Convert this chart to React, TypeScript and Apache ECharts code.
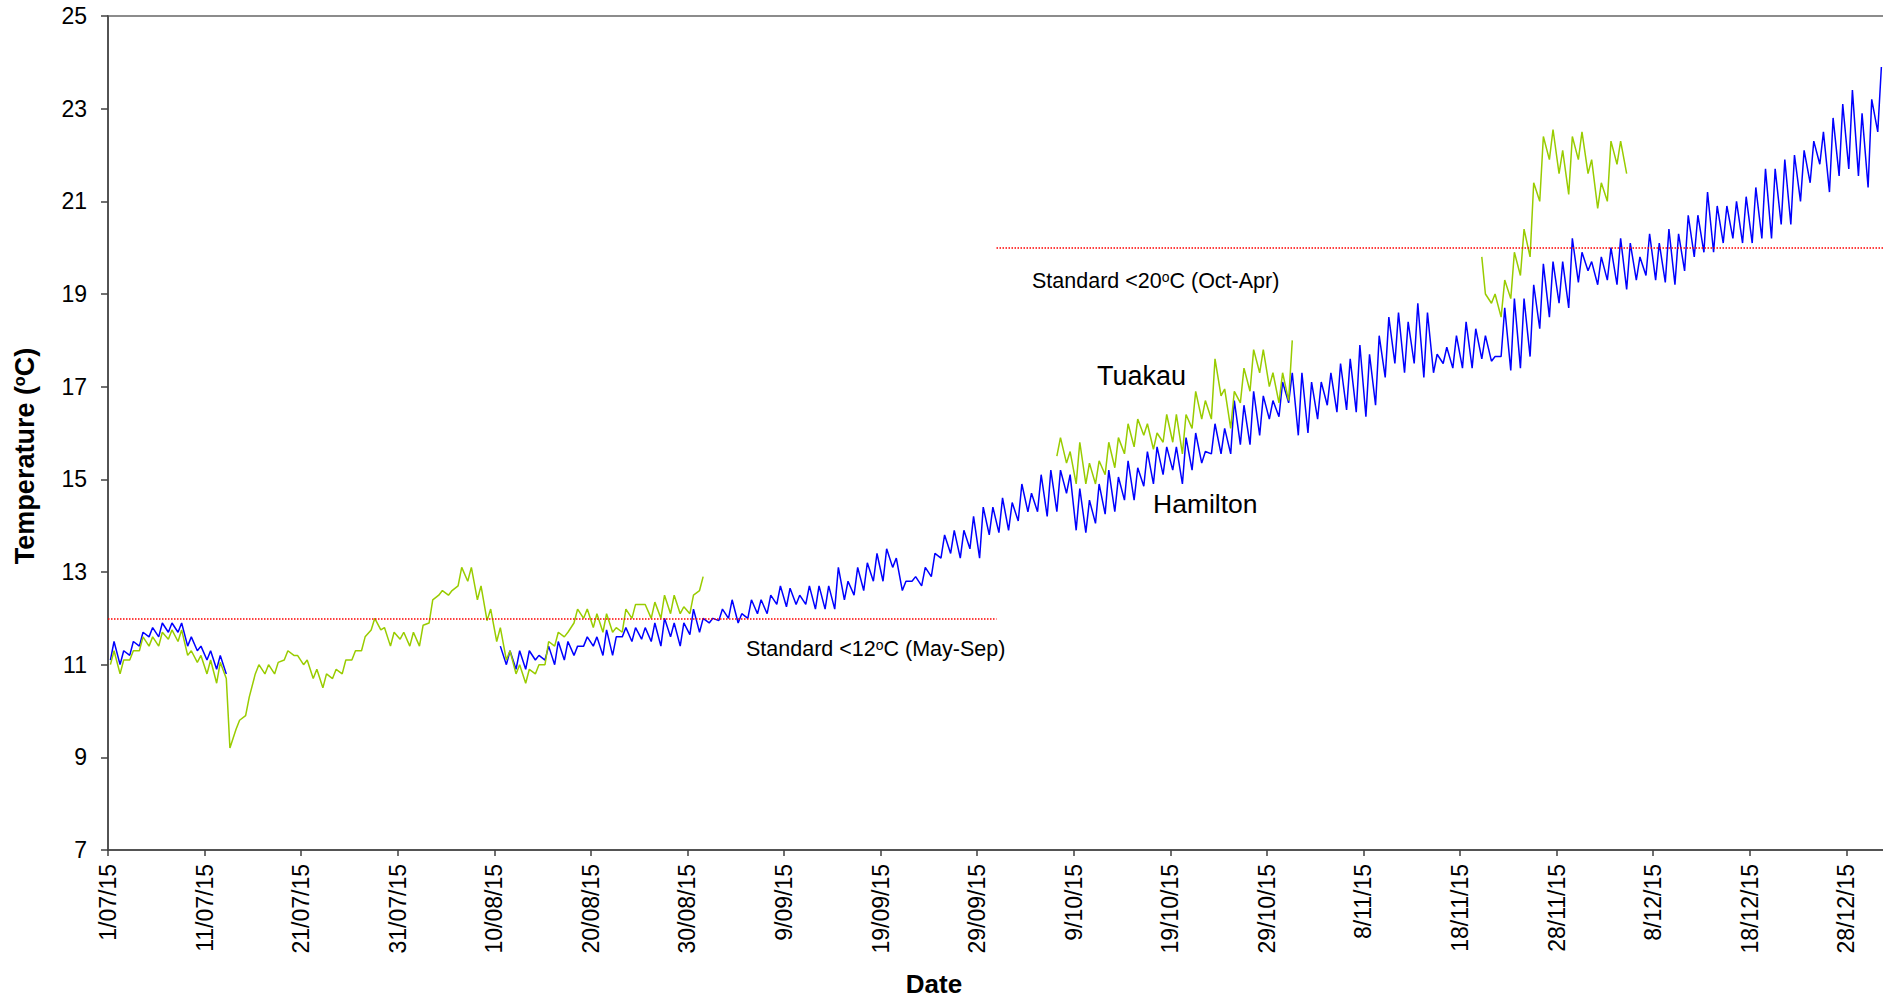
import { useRef, useEffect } from 'react'
import * as echarts from 'echarts'

// x axis is counted in days from 1/07/15
const tickLabels = ['1/07/15', '11/07/15', '21/07/15', '31/07/15', '10/08/15', '20/08/15', '30/08/15',
  '9/09/15', '19/09/15', '29/09/15', '9/10/15', '19/10/15', '29/10/15', '8/11/15', '18/11/15',
  '28/11/15', '8/12/15', '18/12/15', '28/12/15']

// readings per day: early morning and mid afternoon
const AM_HOUR = 6
const PM_HOUR = 15

// Hamilton (blue)
const hamiltonJulStart = 0
const hamiltonJulAm = [11.1, 11.0, 11.2, 11.4, 11.6, 11.6, 11.7, 11.7, 11.4, 11.3, 11.1, 10.9, 10.8]
const hamiltonJulPm = [11.5, 11.3, 11.5, 11.7, 11.8, 11.9, 11.9, 11.9, 11.6, 11.4, 11.3, 11.2, null]

const hamiltonAugStart = 40
const hamiltonAugAm = [
  null, 11.0, 10.9, 10.9, 11.1, 11.1, 11.0, 11.1, 11.2, 11.4,
  11.4, 11.2, 11.2, 11.6, 11.5, 11.55, 11.5, 11.4, 11.6, 11.4,
  11.65, 11.7, 11.9, 11.95, 12.0, 11.9, 12.0, 12.1, 12.1, 12.3,
  12.25, 12.3, 12.3, 12.2, 12.2, 12.2, 12.4, 12.5, 12.6, 12.8,
  12.8, 13.1, 12.6, 12.8, 12.7, 12.9, 13.3, 13.4, 13.3, 13.5,
  13.3, 13.8, 13.85, 13.9, 14.1, 14.3, 14.3, 14.2, 14.3, 14.7,
  13.9, 13.85, 14.05, 14.25, 14.3, 14.55, 14.55, 14.85, 14.9, 15.1,
  15.2, 14.9, 15.2, 15.35, 15.55, 15.55, 15.55, 15.75, 15.75, 15.95,
  16.3, 16.35, 16.65, 15.95, 16.0, 16.3, 16.6, 16.45, 16.5, 16.45,
  16.35, 16.6, 17.2, 17.5, 17.3, 17.5, 17.2, 17.3, 17.5, 17.4,
  17.4, 17.4, 17.6, 17.55, 17.65, 17.35, 17.4, 17.65, 18.25, 18.5,
  18.8, 18.7, 19.25, 19.5, 19.2, 19.3, 19.2, 19.1, 19.3, 19.4,
  19.3, 19.25, 19.2, 19.5, 19.8, 19.9, 19.9, 20.1, 20.2, 20.1,
  20.1, 20.2, 20.2, 20.5, 20.5, 21.0, 21.4, 21.8, 21.2, 21.55,
  21.7, 21.55, 21.3, 22.5,
]
const hamiltonAugPm = [
  11.4, 11.3, 11.3, 11.3, 11.2, 11.4, 11.5, 11.5, 11.4, 11.6,
  11.6, 11.75, 11.6, 11.8, 11.8, 11.8, 11.9, 12.0, 11.9, 11.9,
  12.2, 12.0, 12.0, 12.2, 12.4, 12.1, 12.4, 12.4, 12.5, 12.7,
  12.65, 12.5, 12.7, 12.7, 12.7, 13.1, 12.8, 13.1, 13.2, 13.4,
  13.5, 13.3, 12.8, 12.9, 13.1, 13.4, 13.8, 13.9, 13.9, 14.2,
  14.4, 14.4, 14.6, 14.5, 14.9, 14.7, 15.1, 15.2, 15.2, 15.1,
  14.8, 14.55, 14.9, 15.2, 15.05, 15.4, 15.25, 15.6, 15.7, 15.7,
  15.7, 15.9, 16.0, 15.6, 16.2, 16.1, 16.7, 16.6, 16.9, 16.8,
  16.7, 17.1, 17.3, 17.3, 17.1, 17.1, 17.3, 17.5, 17.6, 17.9,
  17.7, 18.1, 18.5, 18.6, 18.4, 18.8, 18.6, 17.7, 17.85, 18.1,
  18.4, 18.25, 18.1, 17.65, 18.7, 18.9, 18.9, 19.2, 19.65, 19.7,
  19.7, 20.2, 19.9, 19.7, 19.8, 20.0, 20.2, 20.1, 19.8, 20.3,
  20.1, 20.4, 20.3, 20.7, 20.7, 21.2, 20.9, 20.9, 21.0, 21.1,
  21.3, 21.7, 21.7, 21.9, 22.0, 22.1, 22.3, 22.5, 22.8, 23.1,
  23.4, 22.9, 23.2, 23.9,
]

// Tuakau (green)
const tuakauJulStart = 0
const tuakauJulAm = [
  11.0, 10.8, 11.1, 11.3, 11.4, 11.4, 11.55, 11.5, 11.2, 11.05,
  10.8, 10.6, 10.7, 9.6, 9.9, 10.8, 10.8, 10.8, 11.1, 11.2,
  11.0, 10.7, 10.5, 10.7, 10.8, 11.1, 11.3, 11.75, 11.75, 11.4,
  11.55, 11.4, 11.4, 11.9, 12.5, 12.5, 12.7, 12.8, 12.4, 11.95,
  11.5, 11.1, 10.8, 10.6, 10.8, 11.0, 11.4, 11.6, 11.9, 12.0,
  11.8, 11.7, 11.7, 11.7, 12.0, 12.3, 12.0, 12.0, 12.1, 12.1,
  12.1, 12.6,
]
const tuakauJulPm = [
  11.3, 11.1, 11.3, 11.6, 11.6, 11.7, 11.75, 11.75, 11.3, 11.2,
  11.1, 11.05, 9.2, 9.8, 10.3, 11.0, 11.0, 11.05, 11.3, 11.2,
  11.1, 10.9, 10.8, 10.9, 11.1, 11.3, 11.6, 12.0, 11.8, 11.7,
  11.7, 11.7, 11.85, 12.4, 12.6, 12.6, 13.1, 13.1, 12.7, 12.2,
  11.8, 11.3, 11.0, 10.9, 11.0, 11.5, 11.7, 11.7, 12.2, 12.2,
  12.1, 12.1, 11.8, 12.2, 12.3, 12.3, 12.35, 12.5, 12.5, 12.25,
  12.5, 12.9,
]

const tuakauOctStart = 98
const tuakauOctAm = [15.5, 15.35, 14.9, 14.9, 14.9, 15.1, 15.25, 15.55, 15.7, 15.95,
  15.65, 15.8, 15.8, 15.55, 16.1, 16.3, 16.3, 16.8, 16.1, 16.65,
  16.9, 17.3, 17.0, 16.65, 16.7]
const tuakauOctPm = [15.9, 15.6, 15.8, 15.35, 15.4, 15.8, 15.9, 16.2, 16.3, 16.2,
  16.0, 16.4, 16.4, 16.4, 16.9, 16.7, 17.6, 16.95, 16.9, 17.4,
  17.8, 17.8, 17.3, 17.3, 18.0]

const tuakauNovStart = 142
const tuakauNovAm = [19.8, 18.8, 18.5, 18.9, 19.4, 19.8, 21.0, 21.9, 21.6, 21.15, 21.9, 21.6, 20.85, 21.0, 21.8, 21.6]
const tuakauNovPm = [19.0, 19.0, 19.3, 19.9, 20.4, 21.4, 22.4, 22.55, 22.1, 22.4, 22.5, 21.9, 21.4, 22.3, 22.3, null]

// water quality standards
const standardValues = [12, 20]
const standardFromDay = [0, 92]
const standardToDay = [92, 184]

function buildLine(segments: { start: number, am: (number | null)[], pm: (number | null)[] }[]) {
  const pts: any[] = []
  segments.forEach((s, k) => {
    if (k > 0) pts.push([s.start, '-'])
    s.am.forEach((v, i) => {
      if (v != null) pts.push([s.start + i + AM_HOUR / 24, v])
      const p = s.pm[i]
      if (p != null) pts.push([s.start + i + PM_HOUR / 24, p])
    })
  })
  return pts
}

const FONT = '"Liberation Sans", Arial, sans-serif'

export default function App() {
  const cDom = useRef<HTMLDivElement>(null)

  useEffect(() => {
    if (!cDom.current) return
    const chart = echarts.init(cDom.current, null, { renderer: 'svg' })

    const hamilton = buildLine([
      { start: hamiltonJulStart, am: hamiltonJulAm, pm: hamiltonJulPm },
      { start: hamiltonAugStart, am: hamiltonAugAm, pm: hamiltonAugPm },
    ])
    const tuakau = buildLine([
      { start: tuakauJulStart, am: tuakauJulAm, pm: tuakauJulPm },
      { start: tuakauOctStart, am: tuakauOctAm, pm: tuakauOctPm },
      { start: tuakauNovStart, am: tuakauNovAm, pm: tuakauNovPm },
    ])

    const supRich = {
      sup: { fontSize: 14, verticalAlign: 'top', fontFamily: FONT, fill: '#000' },
    }

    chart.setOption({
      animation: false,
      backgroundColor: '#fff',
      textStyle: { fontFamily: FONT, color: '#000' },
      grid: {
        left: 108, top: 16, width: 1777, height: 834,
        outerBoundsMode: 'none',
        show: true, borderColor: '#8c8c8c', borderWidth: 2,
      },
      xAxis: {
        type: 'value', min: 0, max: 184, interval: 10,
        name: 'Date', nameLocation: 'middle', nameGap: 121,
        nameTextStyle: { fontSize: 26, fontWeight: 'bold', color: '#000', padding: [0, 125, 0, 0] },
        splitLine: { show: false },
        axisLine: { onZero: false, lineStyle: { color: '#404040', width: 1.5 } },
        axisTick: { length: 6, lineStyle: { color: '#404040', width: 1.5 } },
        axisLabel: {
          rotate: 90, margin: 14, fontSize: 23, color: '#000', showMaxLabel: false,
          formatter: (v: number) => tickLabels[Math.round(v / 10)] ?? '',
        },
      },
      yAxis: {
        type: 'value', min: 7, max: 25, interval: 2,
        name: 'Temperature ({sup|o}C)', nameLocation: 'middle', nameGap: 70,
        nameTextStyle: {
          fontSize: 27, fontWeight: 'bold', color: '#000', padding: [0, 46, 0, 0],
          rich: { sup: { fontSize: 16, fontWeight: 'bold', verticalAlign: 'top' } },
        },
        splitLine: { show: false },
        axisLine: { lineStyle: { color: '#404040', width: 1.5 } },
        axisTick: { length: 7, lineStyle: { color: '#404040', width: 1.5 } },
        axisLabel: { margin: 21, fontSize: 23, color: '#000' },
      },
      series: [
        {
          name: 'Hamilton', type: 'line', data: hamilton, showSymbol: false, connectNulls: false,
          lineStyle: { color: '#0000ff', width: 1.5 }, itemStyle: { color: '#0000ff' },
          markLine: {
            silent: true, symbol: 'none', label: { show: false },
            lineStyle: { color: '#ff0000', type: 'dotted', width: 1.5 },
            data: standardValues.map((v, i) => [
              { coord: [standardFromDay[i], v] },
              { coord: [standardToDay[i], v] },
            ]),
          },
        },
        {
          name: 'Tuakau', type: 'line', data: tuakau, showSymbol: false, connectNulls: false,
          lineStyle: { color: '#99cc00', width: 1.5 }, itemStyle: { color: '#99cc00' },
        },
      ],
      graphic: [
        { type: 'text', x: 1097, y: 376, style: { text: 'Tuakau', fontSize: 27, fontFamily: FONT, fill: '#000', verticalAlign: 'middle' } },
        { type: 'text', x: 1153, y: 504, style: { text: 'Hamilton', fontSize: 26.5, fontFamily: FONT, fill: '#000', verticalAlign: 'middle' } },
        {
          type: 'text', x: 1032, y: 281,
          style: { text: 'Standard <20{sup|o}C (Oct-Apr)', fontSize: 21.5, fontFamily: FONT, fill: '#000', verticalAlign: 'middle', rich: supRich },
        },
        {
          type: 'text', x: 746, y: 649,
          style: { text: 'Standard <12{sup|o}C (May-Sep)', fontSize: 21.5, fontFamily: FONT, fill: '#000', verticalAlign: 'middle', rich: supRich },
        },
      ],
    })

    return () => {
      chart.dispose()
    }
  }, [])

  return <div ref={cDom} style={{ position: 'absolute', left: 0, top: 0, width: 1883, height: 1000, background: '#fff' }}></div>
}
